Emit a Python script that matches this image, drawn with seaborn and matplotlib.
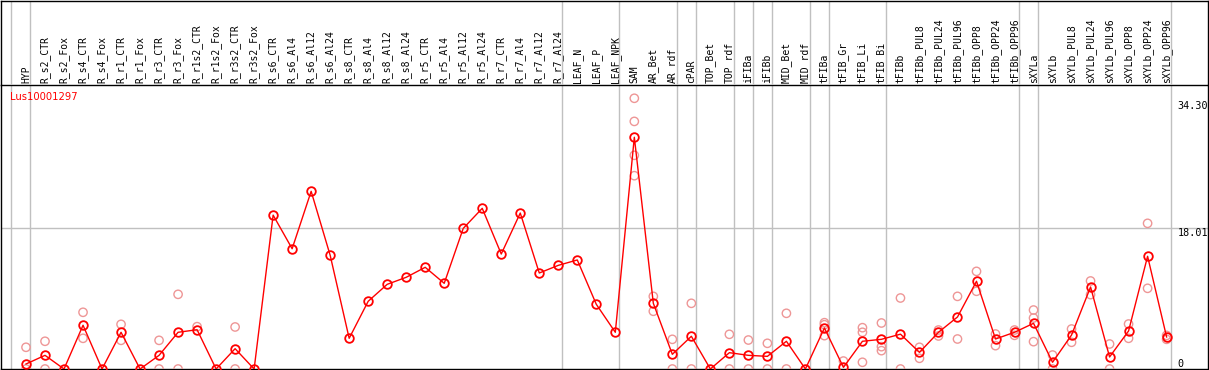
import numpy as np
import pandas as pd
import matplotlib
matplotlib.use("Agg")
import matplotlib.pyplot as plt
import seaborn as sns

nan = np.nan

samples = [
    "HYP", "R_s2_CTR", "R_s2_Fox", "R_s4_CTR", "R_s4_Fox", "R_r1_CTR", "R_r1_Fox",
    "R_r3_CTR", "R_r3_Fox", "R_r1s2_CTR", "R_r1s2_Fox", "R_r3s2_CTR", "R_r3s2_Fox",
    "R_s6_CTR", "R_s6_Al4", "R_s6_Al12", "R_s6_Al24", "R_s8_CTR", "R_s8_Al4",
    "R_s8_Al12", "R_s8_Al24", "R_r5_CTR", "R_r5_Al4", "R_r5_Al12", "R_r5_Al24",
    "R_r7_CTR", "R_r7_Al4", "R_r7_Al12", "R_r7_Al24", "LEAF_N", "LEAF_P", "LEAF_NPK",
    "SAM", "AR_Bet", "AR_rdf", "cPAR", "TOP_Bet", "TOP_rdf", "iFIBa", "iFIBb",
    "MID_Bet", "MID_rdf", "tFIBa", "tFIB_Gr", "tFIB_Li", "tFIB_Bi", "tFIBb",
    "tFIBb_PUL8", "tFIBb_PUL24", "tFIBb_PUL96", "tFIBb_OPP8", "tFIBb_OPP24",
    "tFIBb_OPP96", "sXYLa", "sXYLb", "sXYLb_PUL8", "sXYLb_PUL24", "sXYLb_PUL96",
    "sXYLb_OPP8", "sXYLb_OPP24", "sXYLb_OPP96",
]

mean_expr = [
    0.64, 1.75, 0.0, 5.6, 0.0, 4.7, 0.0, 1.75, 4.7, 5.03, 0.0, 2.6, 0.0,
    19.7, 15.4, 22.75, 14.56, 3.93, 8.67, 10.84, 11.74, 13.02, 10.97, 18.0, 20.57,
    14.72, 19.97, 12.29, 13.27, 13.96, 8.28, 4.7,
    29.67, 8.41, 1.88, 4.19, 0.0, 2.09, 1.75, 1.62, 3.55, 0.0,
    5.25, 0.21, 3.55, 3.8, 4.46, 2.13, 4.7, 6.66, 11.23, 3.84, 4.7,
    5.85, 0.86, 4.35, 10.5, 1.54, 4.87, 14.43, 4.1,
]

rep_hi = [
    2.78, 3.55, nan, 7.26, nan, 5.72, nan, 3.67, 9.56, 5.42, nan, 5.38, nan,
    nan, nan, nan, nan, nan, nan, nan, nan, nan, nan, nan, nan,
    nan, nan, nan, nan, nan, nan, nan,
    34.66, 9.3, 3.8, 8.41, nan, 4.44, 3.71, 3.29, 7.13, nan,
    5.93, 1.02, 5.29, 5.89, 9.09, 2.78, 4.99, 9.3, 12.5, 4.48, 4.99,
    7.55, 1.79, 5.12, 11.27, 3.2, 5.76, 18.65, 4.3,
]

rep_lo = [
    0.0, 0.0, nan, 3.93, nan, 3.67, nan, 0.0, 0.0, nan, nan, 0.0, nan,
    nan, nan, nan, nan, nan, nan, nan, nan, nan, nan, nan, nan,
    nan, nan, nan, nan, nan, nan, nan,
    24.75, 7.39, 0.0, 0.0, nan, 0.0, 0.0, 0.0, 0.0, nan,
    4.27, nan, 0.86, 2.35, 0.0, 1.37, 4.23, 3.84, 9.95, 2.99, 4.31,
    3.5, 0.0, 3.42, 9.52, 0.0, 3.93, 10.33, 3.8,
]

rep_mid = [nan] * 32 + [31.7] + [nan] * 9 + [5.67, nan, 4.7, 2.86] + [nan] * 7 + [6.53] + [nan] * 7
rep_extra = [nan] * 32 + [27.36] + [nan] * 28

# group separators (after these sample indices)
group_ends = [-1, 0, 28, 31, 34, 35, 37, 38, 39, 41, 42, 45, 52, 53, 60]

ytick_vals = [0, 18.01, 34.30]
ytick_text = ["0", "18.01", "34.30"]
gene = "Lus10001297"

# ---------------------------------------------------------------
W, H = 1209, 370
fig = plt.figure(figsize=(W / 100, H / 100), dpi=100)
ax = fig.add_axes([0.5 / W, 1 / H, 1207 / W, 284 / H])
hx = fig.add_axes([0.5 / W, 285 / H, 1207 / W, 84.5 / H], sharex=ax)

xs = np.arange(len(samples))
mono = "DejaVu Sans Mono"
grid_c = "#c0c0c0"
pink = "#ee9696"

for b in group_ends:
    ax.axvline(b + 0.22, color=grid_c, lw=1.0, zorder=0)
    hx.axvline(b + 0.22, color=grid_c, lw=1.0, zorder=0)
ax.axhline(18.01, color=grid_c, lw=1.0, zorder=0)

reps = pd.DataFrame({
    "x": np.tile(xs, 4),
    "val": np.concatenate([rep_hi, rep_lo, rep_mid, rep_extra]),
}).dropna()
sns.scatterplot(data=reps, x="x", y="val", ax=ax, marker="o", s=36,
                color=pink, facecolor="none", edgecolor=pink, linewidth=1.0,
                zorder=3, legend=False)

sns.lineplot(x=xs, y=mean_expr, ax=ax, color="red", lw=1.0, marker="o",
             ms=6.2, mfc="none", mec="red", mew=1.3, zorder=4)

ax.set_xlim((0.5 - 26) / 19.01, (1207.5 - 26) / 19.01)
ax.set_ylim(0, 36.36)
ax.set_xlabel("")
ax.set_ylabel("")

ax.xaxis.tick_top()
ax.set_xticks(xs)
ax.set_xticklabels(samples, rotation=90, fontsize=7, family=mono)
ax.tick_params(axis="x", length=0, pad=1.5, top=True, bottom=False,
               labeltop=True, labelbottom=False)

ax.yaxis.tick_right()
ax.set_yticks(ytick_vals)
ax.set_yticklabels(ytick_text, fontsize=7.3, family=mono)
ax.tick_params(axis="y", length=0, pad=-21.5, left=False, labelleft=False)
for lab, v in zip(ax.get_yticklabels(), ytick_vals):
    lab.set_va("bottom" if v == 0 else "top")

for s in ax.spines.values():
    s.set_color("black")
    s.set_linewidth(1.0)

hx.set_facecolor("none")
hx.tick_params(axis="both", which="both", length=0, labelbottom=False,
               labeltop=False, labelleft=False, labelright=False)
hx.set_yticks([])
hx.spines["bottom"].set_visible(False)
for k in ("top", "left", "right"):
    hx.spines[k].set_color("black")
    hx.spines[k].set_linewidth(1.0)

ax.text(9.5 / 1207, (369 - 92) / 284, gene, transform=ax.transAxes,
        color="red", fontsize=7.2, family="DejaVu Sans", va="top", ha="left")

fig.savefig("out.png", dpi=100)
